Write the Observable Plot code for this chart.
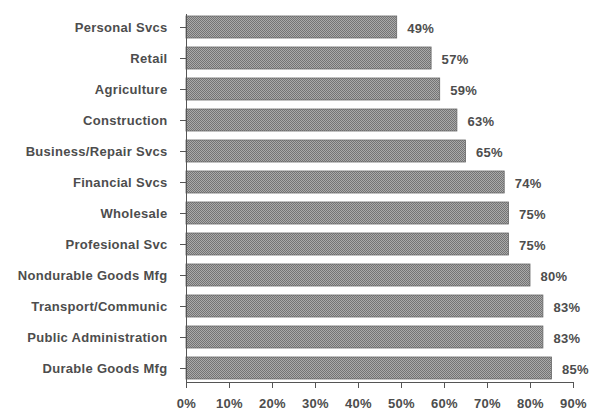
<!DOCTYPE html>
<html>
<head>
<meta charset="utf-8">
<script src="https://cdn.jsdelivr.net/npm/d3@7"></script>
<script src="https://cdn.jsdelivr.net/npm/@observablehq/plot@0.6"></script>
<style>
  html, body { margin: 0; padding: 0; background: #fff; }
</style>
</head>
<body>
<div id="chart"></div>
<script>
const categories = [
  "Personal Svcs",
  "Retail",
  "Agriculture",
  "Construction",
  "Business/Repair Svcs",
  "Financial Svcs",
  "Wholesale",
  "Profesional Svc",
  "Nondurable Goods Mfg",
  "Transport/Communic",
  "Public Administration",
  "Durable Goods Mfg"
];
const values = [49, 57, 59, 63, 65, 74, 75, 75, 80, 83, 83, 85];
const xTicks = [0, 10, 20, 30, 40, 50, 60, 70, 80, 90];

const data = categories.map((c, i) => ({category: c, value: values[i]}));

const chart = Plot.plot({
  width: 593,
  height: 412,
  marginLeft: 186,
  marginRight: 20,
  marginTop: 14,
  marginBottom: 30,
  style: {
    fontFamily: "'Liberation Sans', Arial, sans-serif",
    fontSize: "13px",
    fontWeight: "bold",
    letterSpacing: "0.3px",
    color: "#4d4d4d",
    background: "white"
  },
  x: {domain: [0, 90]},
  y: {domain: categories, paddingInner: 0.29, paddingOuter: 0.08},
  marks: [
    Plot.barX(data, {x: "value", y: "category", fill: "url(#hatch)", stroke: "#666", strokeWidth: 0.8}),
    Plot.text(data, {x: "value", y: "category", text: d => d.value + "%", textAnchor: "start", dx: 10, dy: 1, fill: "#4d4d4d"}),
    Plot.axisX({ticks: xTicks, tickFormat: d => d + "%", tickSize: 6, tickPadding: 10, label: null, stroke: "#555", fill: "#4d4d4d"}),
    Plot.axisY({tickSize: 6, tickPadding: 13, label: null, stroke: "#555", fill: "#4d4d4d"}),
    Plot.ruleX([0], {stroke: "#555"}),
    Plot.frame({anchor: "bottom", stroke: "#555"})
  ]
});

const ns = "http://www.w3.org/2000/svg";
const defs = document.createElementNS(ns, "defs");
const pat = document.createElementNS(ns, "pattern");
pat.setAttribute("id", "hatch");
pat.setAttribute("patternUnits", "userSpaceOnUse");
pat.setAttribute("width", "2");
pat.setAttribute("height", "2");
[["0", "0", "2", "2", "#aaaaaa"], ["0", "0", "1", "1", "#747474"], ["1", "1", "1", "1", "#747474"]].forEach(([x, y, w, h, f]) => {
  const r = document.createElementNS(ns, "rect");
  r.setAttribute("x", x); r.setAttribute("y", y);
  r.setAttribute("width", w); r.setAttribute("height", h);
  r.setAttribute("fill", f);
  pat.appendChild(r);
});
defs.appendChild(pat);
chart.insertBefore(defs, chart.firstChild);

document.getElementById("chart").appendChild(chart);
</script>
</body>
</html>
